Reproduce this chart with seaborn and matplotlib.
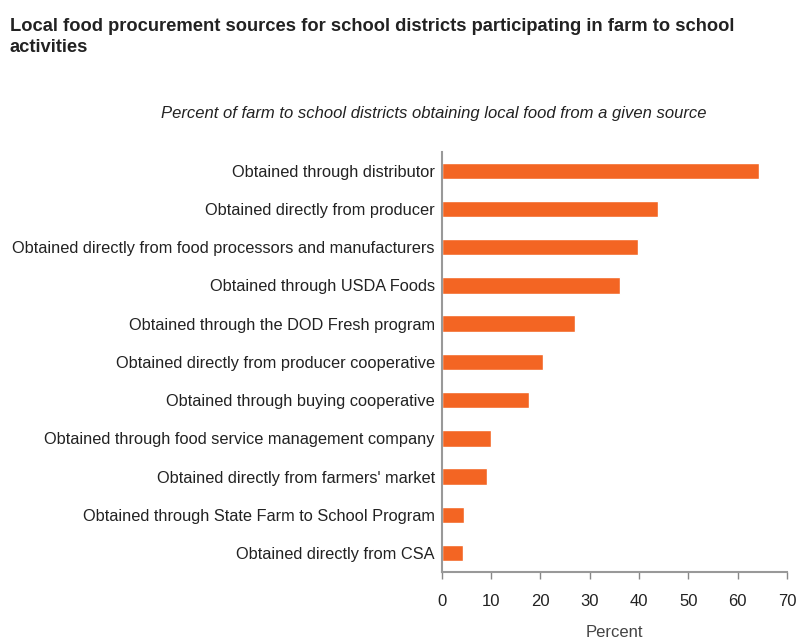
import matplotlib
matplotlib.use("Agg")
import matplotlib.pyplot as plt
import seaborn as sns
import pandas as pd

sources = [
    "Obtained through distributor",
    "Obtained directly from producer",
    "Obtained directly from food processors and manufacturers",
    "Obtained through USDA Foods",
    "Obtained through the DOD Fresh program",
    "Obtained directly from producer cooperative",
    "Obtained through buying cooperative",
    "Obtained through food service management company",
    "Obtained directly from farmers' market",
    "Obtained through State Farm to School Program",
    "Obtained directly from CSA",
]
percents = [64.4, 43.8, 39.8, 36.2, 27.0, 20.6, 17.6, 9.9, 9.2, 4.5, 4.3]
x_ticks = [0, 10, 20, 30, 40, 50, 60, 70]

df = pd.DataFrame({"source": sources, "percent": percents})

sns.set_theme(style="white")
plt.rcParams["font.family"] = ["Liberation Sans", "DejaVu Sans"]

fig = plt.figure(figsize=(7.99, 6.40), dpi=100)
ax = fig.add_axes([0.553, 0.106, 0.432, 0.657])

sns.barplot(data=df, x="percent", y="source", order=sources,
            color="#F36523", saturation=1, width=0.43, ax=ax)

ax.set_xlim(0, 70)
ax.set_ylim(10.5, -0.5)
ax.set_xticks(x_ticks)
ax.set_xticklabels([str(t) for t in x_ticks], fontsize=12, color="#222222")
ax.tick_params(axis="x", length=5, width=1, color="#888888", pad=11, bottom=True)
ax.tick_params(axis="y", length=0, pad=5, labelsize=11.8, labelcolor="#222222")
ax.set_ylabel("")
ax.set_xlabel("Percent", fontsize=12, color="#444444", labelpad=11)

for side in ["top", "right"]:
    ax.spines[side].set_visible(False)
for side in ["left", "bottom"]:
    ax.spines[side].set_color("#999999")
    ax.spines[side].set_linewidth(1.5)

fig.text(0.0125, 0.972,
         "Local food procurement sources for school districts participating in farm to school\nactivities",
         ha="left", va="top", fontsize=13.2, fontweight="bold", color="#222222",
         linespacing=1.35)
fig.text(0.543, 0.823,
         "Percent of farm to school districts obtaining local food from a given source",
         ha="center", va="center", fontsize=12, style="italic", color="#222222")

fig.savefig("out.png", dpi=100)
